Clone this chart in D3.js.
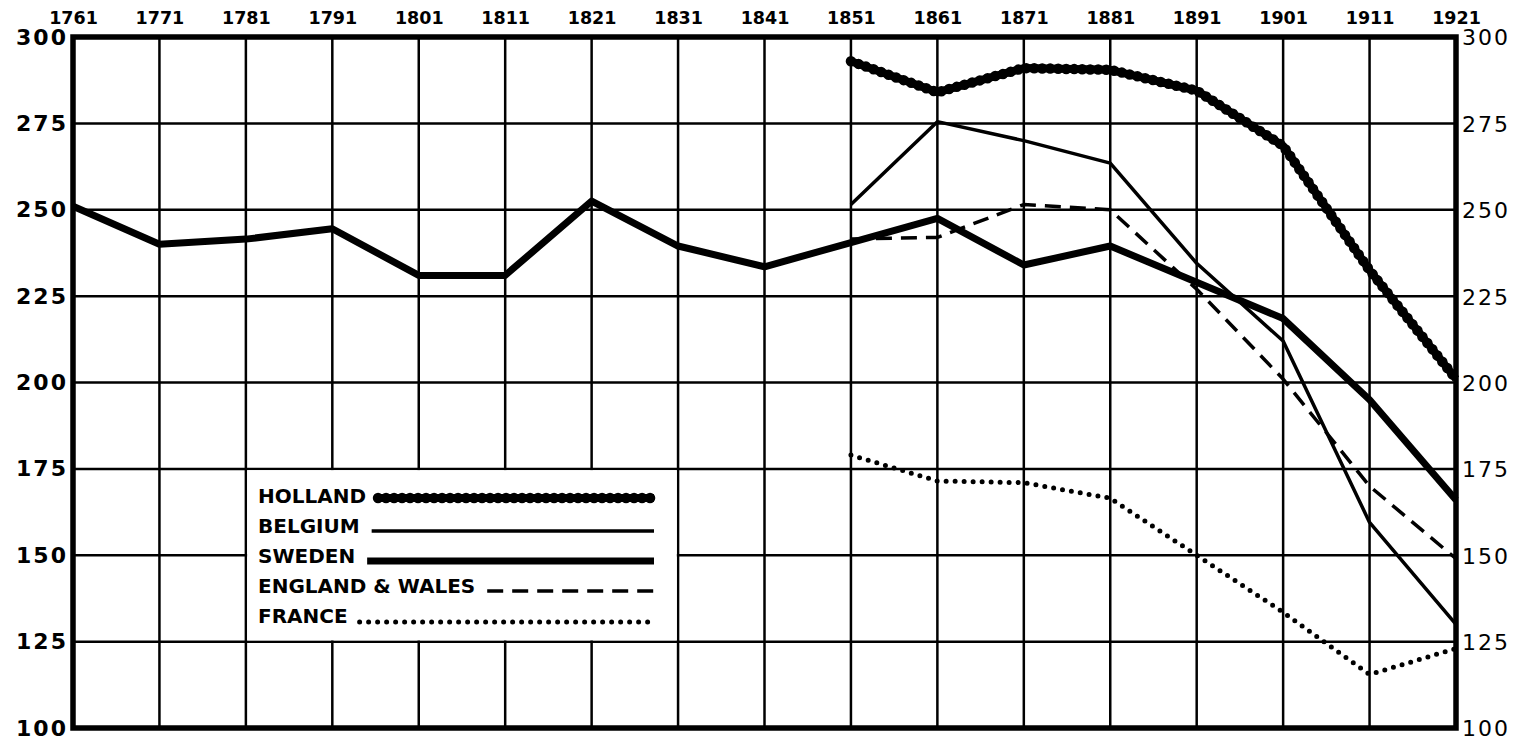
<!DOCTYPE html>
<html><head><meta charset="utf-8">
<script src="https://cdn.jsdelivr.net/npm/d3@7"></script>
<style>body{margin:0;background:#fff}svg{display:block}text{font-family:"DejaVu Sans",sans-serif;font-weight:700;fill:#000}</style>
</head><body><svg id="c" width="1521" height="747"></svg>
<script>
const years = [1761,1771,1781,1791,1801,1811,1821,1831,1841,1851,1861,1871,1881,1891,1901,1911,1921];
const yTicks = [100,125,150,175,200,225,250,275,300];
const sweden = [251,240,241.5,244.5,231,231,252.5,239.5,233.5,240.5,247.5,234,239.5,229,218.5,195,166];
const hYears = [1851,1861,1871,1881,1891,1901,1911,1921];
const holland = [293,284,291,290.5,284.5,268.5,232.5,201];
const belgium = [251.5,275.5,270,263.5,234.5,212,159.5,130];
const england = [241.5,242,251.5,250,227,201,170,149];
const france = [179,171.5,171,166.5,150,133.5,115.5,123];
const legendNames = ["HOLLAND","BELGIUM","SWEDEN","ENGLAND & WALES","FRANCE"];

const svg = d3.select("#c");
const L=73,R=1456,T=37,B=728;
const x = d3.scaleLinear().domain([1761,1921]).range([L,R]);
const y = d3.scaleLinear().domain([100,300]).range([B,T]);

// grid
svg.append("g").selectAll("line").data(years).join("line")
  .attr("x1",d=>x(d)).attr("x2",d=>x(d)).attr("y1",T).attr("y2",B)
  .attr("stroke","#000").attr("stroke-width",2.5);
svg.append("g").selectAll("line").data(yTicks).join("line")
  .attr("x1",L).attr("x2",R).attr("y1",d=>y(d)).attr("y2",d=>y(d))
  .attr("stroke","#000").attr("stroke-width",2.5);

// axes labels
const axTop = d3.axisTop(x).tickValues(years).tickFormat(d3.format("d")).tickSize(0).tickPadding(13);
const gt = svg.append("g").attr("transform",`translate(0,${T})`).call(axTop);
gt.select(".domain").remove();
gt.selectAll("text").style("font-size","17.5px").style("font-family","DejaVu Sans, sans-serif").style("font-weight","700");

const axLeft = d3.axisLeft(y).tickValues(yTicks).tickSize(0).tickPadding(5);
const gl = svg.append("g").attr("transform",`translate(${L},0)`).call(axLeft);
gl.select(".domain").remove();
gl.selectAll("text").style("font-size","22px").style("letter-spacing","2px").style("font-family","DejaVu Sans, sans-serif").style("font-weight","700");

const axRight = d3.axisRight(y).tickValues(yTicks).tickSize(0).tickPadding(6);
const gr = svg.append("g").attr("transform",`translate(${R},0)`).call(axRight);
gr.select(".domain").remove();
gr.selectAll("text").attr("dy","0.36em").style("font-size","22px").style("letter-spacing","2px").style("font-family","DejaVu Sans, sans-serif").style("font-weight","400");

// legend box: grid block 1781-1831 x 125-175, interior cleared
const lg = svg.append("g");
lg.append("rect").attr("x",x(1781)+1.25).attr("y",y(175)+1.25)
  .attr("width",x(1831)-x(1781)-2.5).attr("height",y(125)-y(175)-2.5).attr("fill","#fff");

// frame
svg.append("rect").attr("x",L).attr("y",T).attr("width",R-L).attr("height",B-T)
  .attr("fill","none").attr("stroke","#000").attr("stroke-width",5.5);

const line = d3.line().x(d=>x(d[0])).y(d=>y(d[1]));
const zip = (xs,vs)=>xs.map((d,i)=>[d,vs[i]]);

const styles = [
  {w:8, dash:null, beads:true},
  {w:3.5, dash:null},
  {w:7, dash:null},
  {w:3.5, dash:"16 9"},
  {w:5, dash:"0 9", cap:"round"}
];
function draw(g, path, s){
  g.append("path").attr("d",path).attr("fill","none").attr("stroke","#000")
   .attr("stroke-width",s.w).attr("stroke-dasharray",s.dash).attr("stroke-linecap",s.cap||"butt")
   .attr("stroke-linejoin","round");
  if(s.beads){
    g.append("path").attr("d",path).attr("fill","none").attr("stroke","#000")
     .attr("stroke-width",10.5).attr("stroke-dasharray","0 8").attr("stroke-linecap","round");
  }
}
const series = [zip(hYears,holland), zip(hYears,belgium), zip(years,sweden), zip(hYears,england), zip(hYears,france)];
const order = [4,3,1,2,0];
order.forEach(i=>draw(svg.append("g"), line(series[i]), styles[i]));

// legend entries
const baselines = [503,533,563,593,623];
const lineOff = [5,2,2,2,1];
const lx = 258;
legendNames.forEach((n,i)=>{
  const t = lg.append("text").attr("x",lx).attr("y",baselines[i]).style("font-size","20px").text(n);
  const w = t.node().getComputedTextLength();
  const sx = lx + w + 12;
  const ly = baselines[i]-lineOff[i];
  const p = d3.line()([[sx, ly],[654, ly]]);
  draw(lg, p, styles[i]);
});
</script></body></html>
